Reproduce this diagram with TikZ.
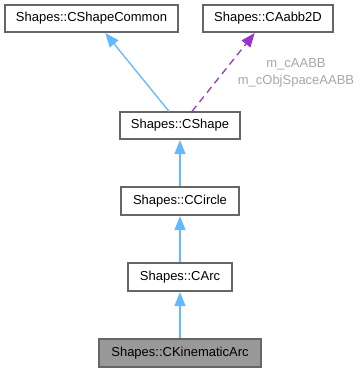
\documentclass[tikz,border=0pt]{standalone}
\usepackage{fontspec}
\setmainfont{Liberation Sans}
\usetikzlibrary{arrows.meta}
\definecolor{boxline}{HTML}{666666}
\definecolor{inherit}{HTML}{63B8FF}
\definecolor{member}{HTML}{9A32CD}
\definecolor{labelgray}{HTML}{A8A8A8}
\definecolor{current}{HTML}{999999}
\begin{document}
\begin{tikzpicture}[x=1pt,y=-1pt,
  font=\fontsize{13}{16}\selectfont,
  classbox/.style={draw=boxline, line width=1.3pt, fill=white, minimum height=27pt,
    inner sep=0pt, text=black},
  inh/.style={draw=inherit, line width=1.3pt,
    -{Triangle[length=14pt,width=11pt]}, shorten >=0.5pt},
  mem/.style={draw=member, line width=1.3pt, dashed, dash pattern=on 7pt off 5pt,
    -{Triangle[length=14pt,width=11pt]}, shorten >=0.5pt},
  lbl/.style={text=labelgray, align=center, inner sep=0pt, font=\fontsize{13}{17}\selectfont}]
  \useasboundingbox (0,0) rectangle (360,372);
  \fill[white] (0,0) rectangle (360,372);

  \node[classbox, minimum width=173pt] (common) at (91.5,18.5) {Shapes::CShapeCommon};
  \node[classbox, minimum width=130pt] (aabb) at (268,18.5) {Shapes::CAabb2D};
  \node[classbox, minimum width=120pt] (shape) at (180,125.5) {Shapes::CShape};
  \node[classbox, minimum width=118pt, minimum height=28pt] (circle) at (180,201) {Shapes::CCircle};
  \node[classbox, minimum width=104pt, minimum height=28pt] (arc) at (180,277) {Shapes::CArc};
  \node[classbox, minimum width=162pt, minimum height=28pt, fill=current] (kin) at (180,353) {Shapes::CKinematicArc};

  \draw[inh] ([xshift=-11pt]shape.north) -- ([xshift=13.5pt]common.south);
  \draw[mem] ([xshift=12pt]shape.north) -- ([xshift=-13pt]aabb.south);
  \node[lbl] (members) at (296,73) {m\_cAABB\\m\_cObjSpaceAABB};

  \draw[inh] (circle) -- (shape);
  \draw[inh] (arc) -- (circle);
  \draw[inh] (kin) -- (arc);
\end{tikzpicture}
\end{document}
